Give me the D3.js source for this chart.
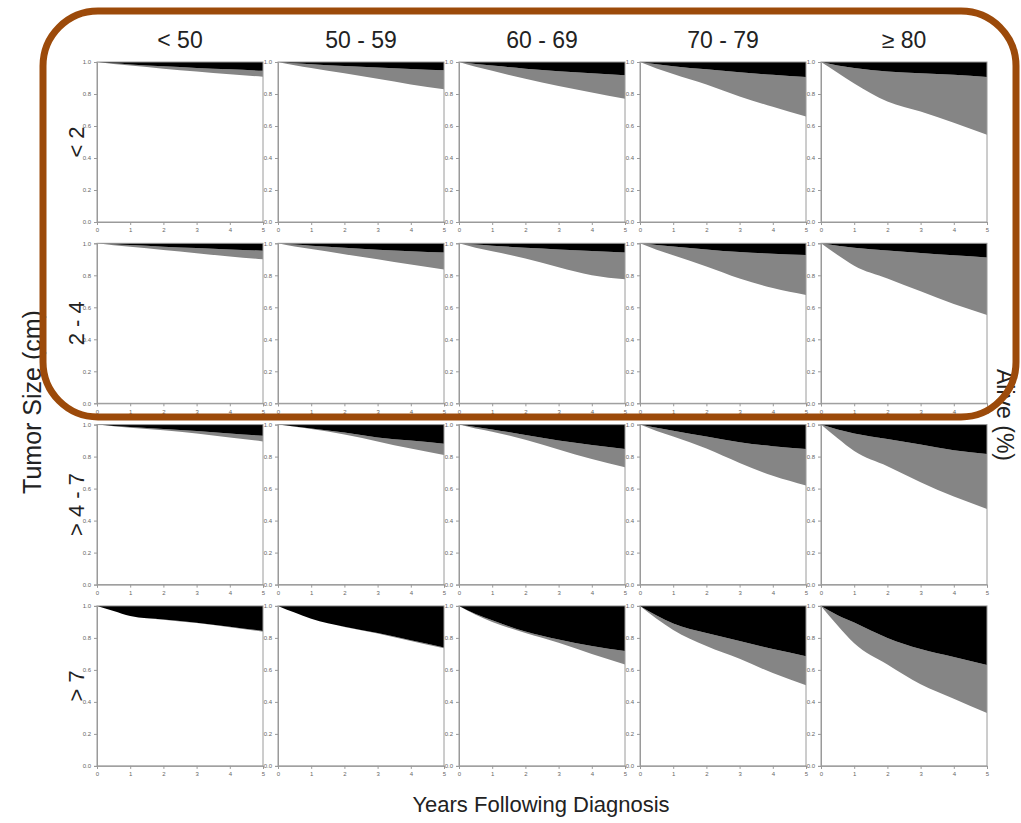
<!DOCTYPE html>
<html>
<head>
<meta charset="utf-8">
<script src="https://cdn.jsdelivr.net/npm/d3@7"></script>
<style>
  html, body { margin: 0; padding: 0; background: #fff; }
  svg { display: block; }
  text { font-family: "Liberation Sans", Arial, sans-serif; }
</style>
</head>
<body>
<svg id="chart" width="1021" height="823"></svg>
<script>
// Years since diagnosis at which cumulative incidence is given
const years = [0, 0.5, 1, 2, 3, 4, 5];

// Column (age group) and row (tumor size) labels
const ageGroups = ["< 50", "50 - 59", "60 - 69", "70 - 79", "\u2265 80"];
const sizeGroups = ["< 2", "2 - 4", "> 4 - 7", "> 7"];

// Axis tick values
const yTicks = [0, 0.2, 0.4, 0.6, 0.8, 1.0];
const xTicks = [0, 1, 2, 3, 4, 5];

// Cumulative incidence of cancer-specific death, by tumor size (rows) and age (columns)
const cancerDeath = [
  [ // < 2 cm
    [0, .008, .015, .027, .037, .046, .055],
    [0, .008, .014, .025, .035, .044, .052],
    [0, .012, .022, .042, .058, .071, .083],
    [0, .014, .026, .046, .064, .080, .094],
    [0, .022, .038, .060, .070, .080, .093]
  ],
  [ // 2 - 4 cm
    [0, .006, .011, .021, .030, .038, .046],
    [0, .008, .015, .028, .040, .050, .058],
    [0, .008, .015, .028, .038, .048, .058],
    [0, .010, .020, .038, .055, .065, .073],
    [0, .015, .028, .045, .060, .075, .088]
  ],
  [ // > 4 - 7 cm
    [0, .008, .015, .027, .040, .055, .070],
    [0, .012, .024, .050, .080, .100, .120],
    [0, .015, .030, .065, .100, .128, .152],
    [0, .020, .038, .075, .110, .135, .152],
    [0, .030, .055, .090, .125, .160, .183]
  ],
  [ // > 7 cm
    [0, .032, .063, .085, .105, .130, .157],
    [0, .042, .080, .130, .170, .215, .260],
    [0, .050, .090, .160, .210, .250, .282],
    [0, .060, .110, .170, .220, .270, .314],
    [0, .058, .104, .200, .270, .320, .370]
  ]
];

// Cumulative incidence of death from other causes
const otherDeath = [
  [ // < 2 cm
    [0, .004, .007, .015, .023, .031, .037],
    [0, .012, .023, .045, .070, .096, .118],
    [0, .018, .033, .063, .092, .119, .147],
    [0, .026, .049, .094, .151, .200, .246],
    [0, .045, .096, .187, .240, .300, .362]
  ],
  [ // 2 - 4 cm
    [0, .006, .011, .021, .032, .044, .054],
    [0, .012, .021, .040, .060, .083, .105],
    [0, .020, .035, .067, .112, .152, .167],
    [0, .030, .055, .107, .165, .215, .250],
    [0, .058, .112, .175, .240, .305, .360]
  ],
  [ // > 4 - 7 cm
    [0, .002, .004, .009, .015, .025, .035],
    [0, .002, .004, .012, .025, .050, .070],
    [0, .010, .015, .030, .055, .087, .115],
    [0, .020, .037, .075, .130, .185, .228],
    [0, .055, .110, .170, .235, .290, .344]
  ],
  [ // > 7 cm
    [0, .000, .000, .001, .002, .003, .004],
    [0, .000, .001, .002, .003, .004, .005],
    [0, .005, .010, .010, .020, .050, .084],
    [0, .020, .040, .080, .110, .150, .182],
    [0, .065, .130, .167, .220, .260, .300]
  ]
];

const svg = d3.select("#chart");

// Panel grid geometry
const panelW = 166, panelH = 160;
const colX = d3.scaleBand().domain(d3.range(ageGroups.length)).range([97, 97 + 181 * 5]);
const rowY = d3.scaleBand().domain(d3.range(sizeGroups.length)).range([62, 62 + 181.3 * 4]);

const x = d3.scaleLinear().domain([0, 5]).range([0, panelW]);
const y = d3.scaleLinear().domain([0, 1]).range([panelH, 0]);

const axisColor = "#9a9a9a";

sizeGroups.forEach((sz, r) => {
  ageGroups.forEach((ag, c) => {
    const g = svg.append("g").attr("transform", `translate(${colX(c)},${rowY(r)})`);
    const rows = years.map((t, i) => {
      const ca = cancerDeath[r][c][i];
      const ot = otherDeath[r][c][i];
      return { t, top: 1, cancer: 1 - ca, all: 1 - ca - ot };
    });

    // other-cause deaths (grey band) beneath the cancer deaths (black band)
    g.append("path")
      .datum(rows)
      .attr("fill", "#858585")
      .attr("d", d3.area().x(d => x(d.t)).y0(d => y(d.cancer)).y1(d => y(d.all)).curve(d3.curveMonotoneX));
    g.append("path")
      .datum(rows)
      .attr("fill", "#000")
      .attr("d", d3.area().x(d => x(d.t)).y0(d => y(d.top)).y1(d => y(d.cancer)).curve(d3.curveMonotoneX));

    // panel frame
    g.append("rect")
      .attr("width", panelW).attr("height", panelH)
      .attr("fill", "none").attr("stroke", axisColor).attr("stroke-width", 1);

    const ya = g.append("g").call(d3.axisLeft(y).tickValues(yTicks).tickSize(3).tickFormat(d3.format(".1f")));
    const xa = g.append("g").attr("transform", `translate(0,${panelH})`)
      .call(d3.axisBottom(x).tickValues(xTicks).tickSize(3).tickFormat(d3.format("d")));
    [ya, xa].forEach(a => {
      a.select(".domain").attr("stroke", axisColor);
      a.selectAll(".tick line").attr("stroke", axisColor);
      a.selectAll(".tick text").attr("fill", "#666").style("font-size", "6px");
    });
  });
});

// Column headers (age groups)
svg.append("g").selectAll("text").data(ageGroups).join("text")
  .attr("x", (d, i) => colX(i) + panelW / 2)
  .attr("y", 48)
  .attr("text-anchor", "middle")
  .attr("fill", "#222")
  .style("font-size", "23px")
  .text(d => d);

// Row headers (tumor size)
svg.append("g").selectAll("text").data(sizeGroups).join("text")
  .attr("transform", (d, i) => `translate(84,${rowY(i) + panelH / 2}) rotate(-90)`)
  .attr("text-anchor", "middle")
  .attr("fill", "#222")
  .style("font-size", "22px")
  .text(d => d);

// Axis titles
svg.append("text")
  .attr("transform", "translate(41,402) rotate(-90)")
  .attr("text-anchor", "middle")
  .attr("fill", "#222")
  .style("font-size", "25px")
  .text("Tumor Size (cm)");

svg.append("text")
  .attr("transform", "translate(997,415) rotate(90)")
  .attr("text-anchor", "middle")
  .attr("fill", "#222")
  .style("font-size", "23px")
  .text("Alive (%)");

svg.append("text")
  .attr("x", 541).attr("y", 812)
  .attr("text-anchor", "middle")
  .attr("fill", "#222")
  .style("font-size", "22px")
  .text("Years Following Diagnosis");

// Highlight frame around the two smaller tumor-size rows
svg.append("rect")
  .attr("x", 43).attr("y", 11).attr("width", 973).attr("height", 406)
  .attr("rx", 55).attr("ry", 55)
  .attr("fill", "none")
  .attr("stroke", "#9c4a0a")
  .attr("stroke-width", 7);
</script>
</body>
</html>
